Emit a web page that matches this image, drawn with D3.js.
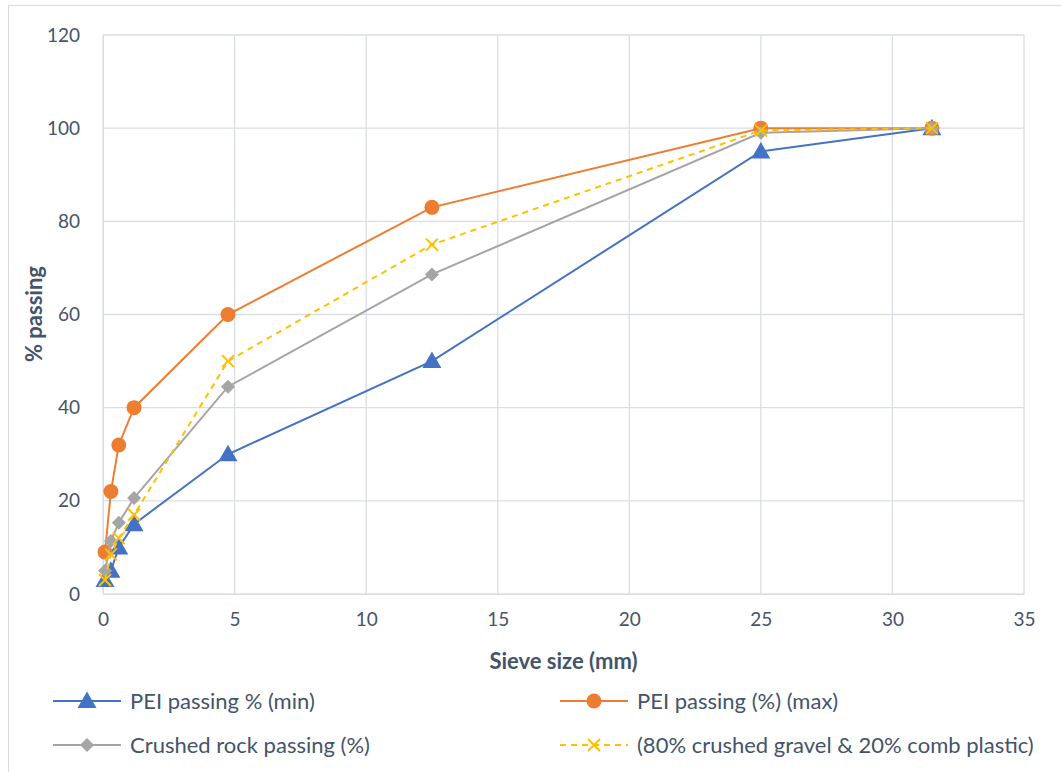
<!DOCTYPE html>
<html><head><meta charset="utf-8">
<script src="https://cdn.jsdelivr.net/npm/d3@7"></script>
<style>
body{margin:0;background:#fff;}
text{font-family:"Lato","Open Sans",sans-serif;}
</style></head>
<body><svg id="c" width="1061" height="772"></svg>
<script>
const sieveSizes = [0.075, 0.3, 0.6, 1.18, 4.75, 12.5, 25, 31.5];
const peiMin = [3, 5, 10, 15, 30, 50, 95, 100];
const peiMax = [9, 22, 32, 40, 60, 83, 100, 100];
const crushedRock = [5, 11.4, 15.3, 20.6, 44.5, 68.6, 99, 100];
const blend = [3, 8.5, 12, 17, 50, 75, 99.5, 100];
const seriesNames = ["PEI passing % (min)", "PEI passing (%) (max)", "Crushed rock passing (%)", "(80% crushed gravel & 20% comb plastic)"];
const xTicks = [0, 5, 10, 15, 20, 25, 30, 35];
const yTicks = [0, 20, 40, 60, 80, 100, 120];

const svg = d3.select("#c");
svg.append("rect").attr("x",8.5).attr("y",5.5).attr("width",1060).attr("height",770)
  .attr("fill","#fff").attr("stroke","#d9d9d9");

const L=103,R=1024,T=35,B=594;
const x=d3.scaleLinear().domain([0,35]).range([L,R]);
const y=d3.scaleLinear().domain([0,120]).range([B,T]);
const grid="#d9dde6", txt="#44546a";

const g=svg.append("g");
g.selectAll(".vg").data(xTicks).join("line").attr("x1",d=>x(d)).attr("x2",d=>x(d)).attr("y1",T).attr("y2",B).attr("stroke",grid).attr("stroke-width",1.3);
g.selectAll(".hg").data(yTicks).join("line").attr("x1",L).attr("x2",R).attr("y1",d=>y(d)).attr("y2",d=>y(d)).attr("stroke",grid).attr("stroke-width",1.3);

const xa=svg.append("g").attr("transform",`translate(0,${B})`).call(d3.axisBottom(x).tickValues(xTicks).tickSize(0).tickPadding(19));
xa.select(".domain").attr("stroke",grid);
xa.selectAll("text").attr("fill",txt).style("font-size","19px");
const ya=svg.append("g").attr("transform",`translate(${L},0)`).call(d3.axisLeft(y).tickValues(yTicks).tickSize(0).tickPadding(23));
ya.select(".domain").attr("stroke",grid);
ya.selectAll("text").attr("fill",txt).style("font-size","19px");

svg.append("text").attr("x",(L+R)/2).attr("y",669).attr("text-anchor","middle").attr("fill",txt)
  .style("font-size","22px").style("font-weight","bold").text("Sieve size (mm)");
svg.append("text").attr("transform","translate(42,314) rotate(-90)").attr("text-anchor","middle").attr("fill",txt)
  .style("font-size","22px").style("font-weight","bold").text("% passing");

const series=[
 {name:seriesNames[0],vals:peiMin,color:"#4472c4",marker:"triangle",dash:null},
 {name:seriesNames[1],vals:peiMax,color:"#ed7d31",marker:"circle",dash:null},
 {name:seriesNames[2],vals:crushedRock,color:"#a5a5a5",marker:"diamond",dash:null},
 {name:seriesNames[3],vals:blend,color:"#ffc000",marker:"x",dash:"6,5"}
];
const line=d3.line().x(d=>x(d[0])).y(d=>y(d[1]));

function drawMarker(sel,s,cx,cy){
  if(s.marker==="triangle"){
    sel.append("path").attr("d",`M${cx},${cy-9.5}L${cx+9.5},${cy+7}L${cx-9.5},${cy+7}Z`).attr("fill",s.color);
  } else if(s.marker==="circle"){
    sel.append("circle").attr("cx",cx).attr("cy",cy).attr("r",7.5).attr("fill",s.color);
  } else if(s.marker==="diamond"){
    sel.append("path").attr("d",`M${cx},${cy-7}L${cx+7},${cy}L${cx},${cy+7}L${cx-7},${cy}Z`).attr("fill",s.color);
  } else {
    sel.append("path").attr("d",`M${cx-6},${cy-6}L${cx+6},${cy+6}M${cx+6},${cy-6}L${cx-6},${cy+6}`).attr("stroke",s.color).attr("stroke-width",2);
  }
}

series.forEach(s=>{
  const pts=sieveSizes.map((v,i)=>[v,s.vals[i]]);
  const sg=svg.append("g");
  sg.append("path").attr("d",line(pts)).attr("fill","none").attr("stroke",s.color).attr("stroke-width",2)
    .attr("stroke-dasharray",s.dash);
  pts.forEach(p=>drawMarker(sg,s,x(p[0]),y(p[1])));
});

const legPos=[[53,701],[560,701],[53,745],[560,745]];
series.forEach((s,i)=>{
  const [lx,ly]=legPos[i];
  const lg=svg.append("g");
  lg.append("line").attr("x1",lx).attr("x2",lx+68).attr("y1",ly).attr("y2",ly).attr("stroke",s.color).attr("stroke-width",2).attr("stroke-dasharray",s.dash);
  drawMarker(lg,s,lx+34,ly);
  lg.append("text").attr("x",lx+77).attr("y",ly+7.5).attr("fill",txt).style("font-size","22px").text(s.name);
});
</script></body></html>
